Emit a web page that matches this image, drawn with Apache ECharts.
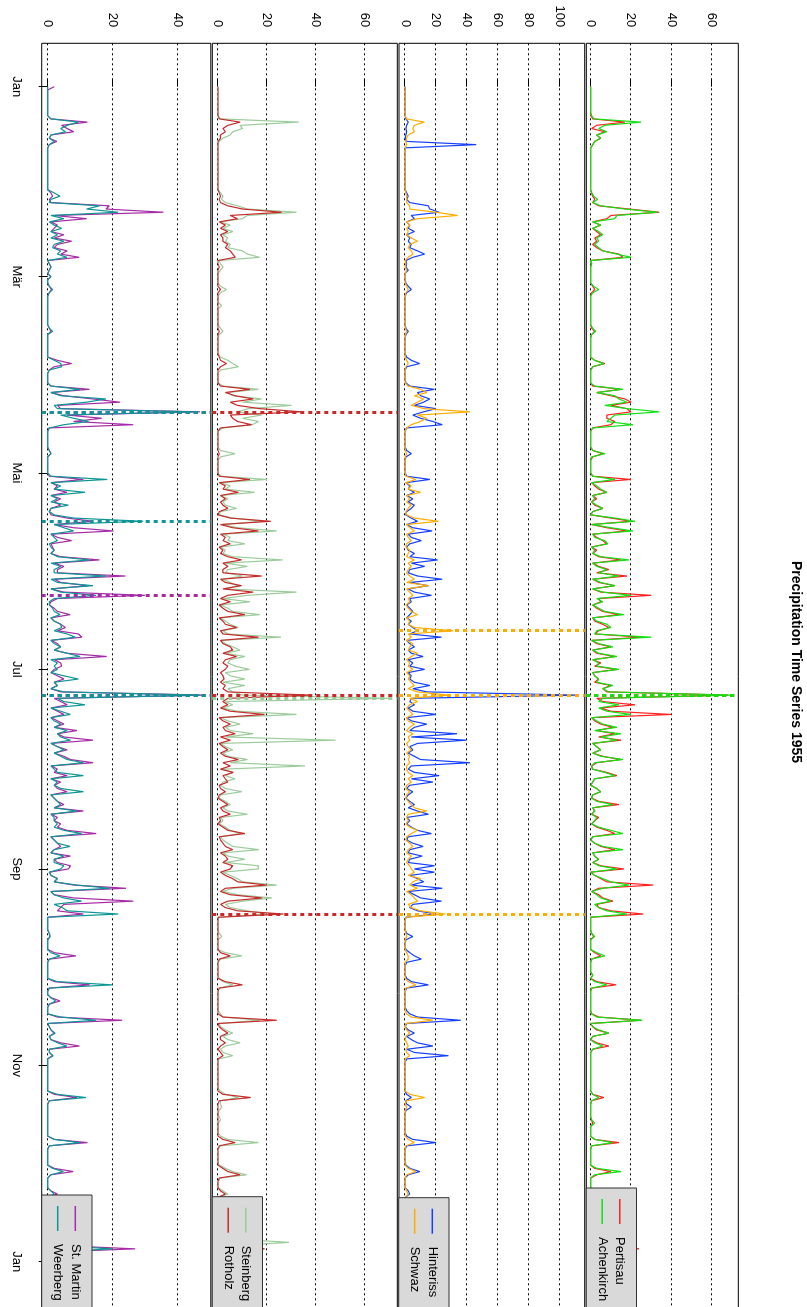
<!DOCTYPE html>
<html>
<head>
<meta charset="utf-8">
<script src="https://cdn.jsdelivr.net/npm/echarts@6/dist/echarts.min.js"></script>
<style>
  html, body { margin: 0; padding: 0; background: #fff; overflow: hidden; width: 807px; height: 1307px; }
  /* the chart is laid out landscape and turned a quarter clockwise, like the reference */
  #chart { position: absolute; left: 0; top: 0; width: 1320px; height: 807px;
           transform-origin: 0 0; transform: translate(807px, 0) rotate(90deg); }
</style>
</head>
<body>
<div id="chart"></div>
<script>
// day index 0 = 1 Jan 1955
const monthTickDays = [0, 59, 120, 181, 243, 304, 365];
const monthTickLabels = ['Jan', 'Mär', 'Mai', 'Jul', 'Sep', 'Nov', 'Jan'];

const ticksPanel1 = [0, 20, 40, 60];
const ticksPanel2 = [0, 20, 40, 60, 80, 100];
const ticksPanel3 = [0, 20, 40, 60];
const ticksPanel4 = [0, 20, 40];

// daily precipitation (mm), one line per month
const pertisau = [
  0,0,0,0,0,0,0,0,0,0, 1,17,3,0.5,7,3,5,2,1,0, 0,0,0,0,0,0,0,0,0,0, 0,
  0,0,0.5,1,2,1,4,19,34,10, 8,1,5,1,3,5,2,3,1,3, 6,14,16,0,0.5,0,0,0,
  0,0,0,1,2,0.5,0,0,0,0, 0,0,0,0,0,0,0.5,2,0.5,0, 0,0,0,0,0,0,2,7,1,0, 0,
  0,0,0,1,15,3,10,17,20,10, 18,20,8,8,12,10,1,0,0,0, 0,0,0,1,6,1,0,0,0,0,
  0,1,20,0.5,2,4,8,1,3,0.5, 2,6,1,0,10,20,0.5,8,18,1, 3,6,8,0.5,3,1,4,15,1,4, 9,
  3,18,1,4,12,1,5,30,4,5, 1,3,6,14,1,2,6,9,4,2, 25,0.5,3,10,1,3,12,1,5,2,
  13,1,2,4,2,10,6,8,68,3, 6,22,5,10,40,0.5,2,5,11,3, 12,4,15,1,3,5,1,6,15,3, 0.5,
  1,8,13,2,1,0,3,5,1,0.5, 4,14,1,2,0.5,4,2,0.5,3,8, 12,1,0,2,5,12,1,2,4,1, 5,
  16.5,0,2,5,8,31,4,0.5,4,6, 11,3,4,10,26,0,0,0,0,0, 0.5,1.5,0,0,0,0,2,5,0.5,0,
  0,0,0,1,0,3,12.5,0.5,0,0, 0,0,0,0,0,0.5,4,25,0,1, 3,9,1,0,3,9,1,0,0,0, 0,
  0,0,0,0,0,0,0,0,0,1, 6.5,0.5,0,0,0,0,0,0.5,1,0, 0,0,0,2,14,0.5,0,0,0,0,
  0,0,2,10,3,0,0,0,0,2, 4,0,0,1,3,0,0,0,5,1, 0,0,0,2,6,3,8,24,2,0, 0
];
const achenkirch = [
  0,0,0,0,0,0,0,0,0,0.5, 1.5,25,7,4,8,3,5,2,1,0, 0,0,0,0,0,0,0,0,0,0, 0,
  0,0,0.5,1.5,3.5,1,5,17,33,13, 12,1,5,1,4,6,3,4,2,4, 6,13,20,0,0.5,0,0,0,
  0,0,0,1.5,4,1,0,0,0,0, 0,0,0,0,0,0,1,2.5,0.5,0, 0,0,0,0,0,0,2,6.5,1,0, 0,
  0,0,0,2,16,3,12,14,18,7, 18,34,12,10,8,21,1,0,0,0, 0,0,0,1,7,0.5,0,0,0,0,
  0,1,12,0.5,3,5,8,1,2,0.5, 3,6,1,0,12,22,0.5,10,21,1, 2,7,8.5,0.5,2,1,5,19,1,3, 8,
  4,14,1,5,12,1,6,20,3,6, 1,4,7,16.5,1,3,8,10,3,2, 30,0.5,4,11,1,4,13,1,4,3,
  14,1,2,4,3,11,6,9,70.5,6, 4,14,4,8,20,0.5,3,6,13,2, 15,5,13,1,3,5,1,5,16,2, 0.5,
  1,7,12,2,1,0,3,5,1,0.5, 3,11,1,2,0.5,3,2,0.5,4,10, 16,1,0,2,6,16,1,2,4,1, 4,
  13,0,2,6,10,19,6,0.5,3,5, 10,2,4,8,18,0,0,0,0,0, 0.5,2,0,0,0,0,3,7,0.5,0,
  0,0,0,1,0,2,8,0.5,0,0, 0,0,0,0,0,0.5,3,25.5,0,1, 4,9,1,0,2,6,1,0,0,0, 0,
  0,0,0,0,0,0,0,0,0,1, 4,0.5,0,0,0,0,0,0.5,2,0, 0,0,0,2,11,0.5,0,0,0,0,
  0,0,3,15,2,0,0,0,0,2, 3,0,0,1,2,0,0,0,4,1, 0,0,0,2,5,2,7,22,1,0, 0
];
const hinteriss = [
  0,0,0,0,0,0,0,0,0,0, 0.5,2,1,0.5,1,0.5,0,1,46,0, 0,0,0,0,0,0,0,0,0,0, 0,
  0,0,1,2,1,3,15,16,22,4, 6,1,3,2,6,1,3,2,4,3, 8,12.6,5,0.5,1,0.5,2,0,
  0,0,0.5,2,4,1,0,0,0,0, 0,0,0,0,0,0,0.5,2,0.5,0, 0,0,0,0,0,1,4,9.4,1,0, 0,
  0,0,0.5,3,19,8,10,16,12,6, 20,12,5,10,18,24,1,0,0,0, 0,0,0,1,4,0.5,0,0,0,0,
  0,1,16,0.5,3,2,6,1,5,2, 6,4,1,0.5,4,8,1,5,17.5,2, 4,10.5,3,1,2,6,3,21,4,12.7, 3,
  2,8,24,3,15,2,6,17,3,4, 1,3,5,3,1,4,2,5,8,3, 23.5,1,3,6,2,4,11.6,2,5,3,
  12.7,2,4,3,6,16,5,14,112,4, 3,6,2,5,20,1,4,14,6,3, 33.6,4,39.6,8,3,5,2,6,10,42, 4,
  2,6,22,4,18,3,1,5,2,0.5, 3,6,2,8,15,1,3,1,4,8, 17,2,1,5,11.6,3,2,11,3,2, 19,
  6,19,3,8,12,4,24,2,6,10, 23.5,5,3,8,20,0.5,0,0,0,0, 1,5,0.5,0,0,0.5,3,6,10.5,1,
  0,0,0,0,1,4,15,1,0,0, 0,0,0,0,1,3,8,36,1,0, 2,6,1,4,8,18,1,6,28,1, 0,
  0,0,0,0,0,0,0,0,0,1, 4,0.5,1,4,0.5,0,0,0,0,0, 0,0,1,5,20,1,0,0,0,0,
  0,0.5,3,9.5,2,0,0,0,0,2, 3,0,0,1,4,0,0,0,5,1, 0,0,0,2,8,3,6,14,2,0, 0
];
const schwaz = [
  0,0,0,0,0,0,0,0,0,0, 1,12.5,6,5,6,2,1,0.5,1,0, 0,0,0,0,0,0,0,0,0,0, 0,
  0,0,0.5,1,1,1,3,3,20,34, 8,1,3,1,2,1,4,8,3,2, 4,5,2,0,0.5,0,1,0,
  0,0,0,1,2,0.5,0,0,0,0, 0,0,0,0,0,0,0,1,0,0, 0,0,0,0,0,0,1,2,0.5,0, 0,
  0,0,0,2,10,14,6,12,8,4, 12,42,8,14,10,4,1,0,0,0, 0,0,0,0,1,0,0,0,0,0,
  0,0.5,7,0.5,4,2,10,1,3,1, 4,2,0.5,1,6,21.5,1,3,6,1, 2,4,1,0.5,3,2,1,6,2,4, 2,
  1,3,6,1,15,1,3,5,2,3, 0.5,2,4,8,1,3,2,6,31,2, 4,1,5,3,2,8,4,1,3,2,
  5,1,3,2,4,6,2,8,28,3, 8,3,1,3,5,1,2,6,3,1, 5,2,3,1,2,4,1,3,2,3, 1,
  1,2,5,2,4,1,0.5,3,1,0.5, 2,4,6,14,2,1,2,0.5,3,8, 4,1,0.5,3,5,2,1,4,2,1, 3,
  4,6,2,10,5,3,8,1,4,6, 8,2,4,10,26,0.5,0,0,0,0, 0.5,1,0,0,0,0,1,2,2,0,
  0,0,0,0,0,2,7,0.5,0,0, 0,0,0,0,0,1,4,18,0.5,0, 1,3,0.5,0,1,2,0.5,1,3,0, 0,
  0,0,0,0,0,0,0,0,0,3, 12.7,1,0,1,0,0,0,0,0,0, 0,0,0,2,6,0.5,0,0,0,0,
  0,0,2,7,1,0,0,0,0,1, 2,0,0,0,2,0,0,0,3,0.5, 0,0,0,1,4,2,3,8,1,0, 0
];
const steinberg = [
  0,0,0,0,0,0,0,0,0,0, 1,33,9,10,6,5,2,0.5,0,0, 0,0,0,0,0,0,0,0,0,0, 0,
  0,0,1,2,1.5,3,8,12,32,12, 10,1,5,2,6,2,4,3,5,4, 10,12,17,0.5,1,2,1,0,
  0,0,0,1,3.5,1,0,0,0,1.5, 0,0,0,0,0,0,1,2,0.5,0, 0,0,0,0,0,1,4,6,8.3,1, 0,
  0,0,0,2,16.5,4,6,17.8,10,30, 12.4,8,17.8,10,16.5,14,2,0,0,0, 0,0,0,1,7,1,0,0,0,0,
  0,1,20,1,5,3,15,1,4,2, 3,7.6,1,0.5,6,18,2,8,24,2, 5,4,11,1,3,2,6,26.4,3,12, 4,
  3,10,2,5,8,3,32,12,2,13, 1,4,6,17,1,3,5,8.3,2,4, 25.7,1,3,6,9,3,11,5,4,7,
  12.8,3,5,11,2,11,4,6,10,70.5, 3,6,2,8,32,1,4,9,3,5, 14.4,3,48,1,3,6,2,4,12,5, 35.5,
  2,6,3,7,2,1,3,9.7,1,0.5, 3,5,2,4,12,1,2,0.5,3,5, 9,1,2,4,6,16.7,2,4,11,3, 16.5,
  16.5,2,5,8,10,24,6,2,8,22, 10,3,5,12,20,0.5,0,0,0,0, 0.5,1.5,0,0,0,0,3,9.7,1,0,
  0,0,0,0,0.5,2,6,0.5,0,0, 0,0,0,0,0,1,2,17,0.5,1, 3,6,2,4,9,3,1,2,6,0.5, 0,
  0,0,0,0,0,0,0,0,1,3, 8.3,1,1,1.5,0.5,0,0.5,1,0,0, 0,0,1,4,16.5,1,0,0,0,0,
  0,0.5,3,6,11.7,1,0,0,0,2, 4,0,0,1,3,0,0,0,6,1, 0,0,0,3,8,29,6,19,2,0, 0
];
const rotholz = [
  0,0,0,0,0,0,0,0,0,0, 0.5,9,4,2,3,1,1,0,0,0, 0,0,0,0,0,0,0,0,0,0, 0,
  0,0,0.5,1,0.5,1,4,10,26,5, 8,0.5,3,1,4,1,2,2,4,3, 5,6,7,0,0,0.5,0,0,
  0,0,0,0,1,0,0,0,0,0, 0,0,0,0,0,0,0,0.5,0,0, 0,0,0,0,0,0.5,1,3.5,1,0, 0,
  0,0,0,1,13,3,7,14.4,5,8, 17,34,5,6,8,13.7,1,0,0,0, 0,0,0,0,0.5,0,0,0,0,0,
  0,0.5,13,0.5,3,2,8.3,1,3,1, 2,4,0.5,0,5,21.5,1,6,16.5,1, 3,2,5,0.5,2,1,4,9.6,2,4, 2,
  2,17.8,1,3,9.6,2,14.4,4,1,5, 0.5,2,4,11,0.5,2,3,7.6,1,2, 16.5,1,2,5,6,2,7.6,3,2,4,
  3,1,2,2.5,1,3,2,4,38,4, 2,4,1,5,19,0.5,2,5,2,3, 7,1,5,0.5,2,4,1,3,8.3,2, 5,
  1,6.3,2,3,4,0.5,1,3,0.5,0, 2,4,1,2,5,0.5,1,0,2,4, 11,0.5,1,2,3,6,1,3,4,2, 6,
  5,1,3,6,8,19.9,3,1,5,18, 4,1,3,8,26.7,0,0,0,0,0, 0,0,0,0,0,0,1,5,0.5,0,
  0,0,0,0,0,3,10,0.5,0,0, 0,0,0,0,0,0,2,24,0,0.5, 2,4,1,1,3,1,0,1,2,0, 0,
  0,0,0,0,0,0,0,0,0,2, 13.3,0.5,0,0,0,0,0,0,0,0, 0,0,0,2,7,0.5,0,0,0,0,
  0,0,2,4,9,0.5,0,0,0,1, 3,0,0,0,2,0,0,0,4,0.5, 0,0,0,2,6,10,4,19,1,0, 0
];
const stMartin = [
  2,0,0,0,0,0,0,0,0,0, 1,12.3,4.3,6,8,1,0.5,2.8,0.5,0, 0,0,0,0,0,0,0,0,0,0, 0,
  0,0,1,1.5,0.5,1,19,18,35.7,2, 12,1,3,2,1,5,2,7.4,3,2, 6,4,9.7,0,0.5,1,0.5,0,
  1,0,0,0.5,1.2,0.5,0,0,0,0, 0,0,0,0,0,0,0.5,1,0,0, 0,0,0,0,0,0,3,7.4,2,0.5, 0,
  0,0,0,1,12.9,1,5,14,22.3,3, 4,47,6,16.7,8,26.4,0.5,0,0,0, 0,0,0,0.5,1,0,0,0,0,0,
  0,0.5,11,1,3,2,5.9,1,4,2, 4,1,0.5,1,6,14,2,8,20.3,1, 3,7.4,1,1.5,2,1,4,16,2,5, 3,
  3,24,2,4,12.5,1,5,30,3,1, 0.5,2,3,6.9,1,2,4,5.5,3,9.5, 10.5,1,3,4,2,6,18.2,2,4,4.3,
  2,1,3,5,2,3,1,4,48.4,2, 4,6,1,3,5,1,3,5,2,9, 3,5,14,1,3,6,2,5,7,14, 1,
  3,2,6,1,4,2,3,6,1,2, 3,5,2,11,1,3,2,4,3,6, 15,1,2,3,4,2,1,7,2,3, 7,
  6.4,0.5,1,3,2,8,24.2,1,2,8, 26.4,5,4,3,11,0,0,0,0,0, 0.5,0.7,0,0,0,0,2,8.7,0.5,0,
  0,0,0,0,0,2,13,0.5,0,0, 1,3.8,0.5,0,0,0,3,23,0,0.5, 1,2,0.5,1,4,9.8,0.5,0.5,1.5,0, 0,
  0,0,0,0,0,0,0,0,0,2, 9,0.5,0,0,0,0,0,0,0,0, 0,0,0,2,12.3,0.5,0,0,0,0,
  0,0,2,7.9,1,0,0,0,0,1, 3,0,0,0,2,0,0,0,4,0.5, 0,0,0,2,6,8,4,27,1,0, 0
];
const weerberg = [
  0,0,0,0,0,0,0,0,0,0, 1,9.5,6,4,5.5,1,0.5,2,0.5,0, 0,0,0,0,0,0,0,0,0,0, 0,
  0,0,2,3.8,1,0.5,16,12,21.8,1, 5,0.5,2,4.3,1,3,1,5,2,1.5, 4,3,5.9,0,0.5,1,0.5,0,
  1,0,0,0.5,1.5,0.5,0,0,0,0, 0,0,0,0,0,0,0.5,1.5,0,0, 0,0,0,0,0,0,2,4,4.3,0.5, 0,
  0,0,0,1,10,1,4,18,12,2, 3,45,4,8,12.6,5,0.5,0,0,0, 0,0,0,0.5,1,0,0,0,0,0,
  0,1,18.4,1,4,2,11.5,1,3,1, 6.4,1,0.5,2,8,29.5,2,5,8,1, 2,3,0.5,1,2,1,3,13,1,4, 2,
  2,18,1,3,14,1,4,15,2,0.5, 0.5,1.5,2,3.8,1,2,4,4.3,2,6, 8.5,1,2,4,2,6,10,1,3,2,
  3,1,5,9.5,2,3,1,5,47,3, 5,11.5,1,4,7,1,2,4,2,6, 3,4,7,1,3,5,2,4,6,11, 1,
  2,3,11,1,3,2,4,11,1,2, 3,4,2,9,1,2,2,3,2,5, 10.5,1,2,3,6.9,2,1,5,2,2, 5,
  4,0.5,1,3,2,9,19.2,1,2,5, 10.5,2,4.5,6,21.8,0,0,0,0,0, 0.5,0.7,0,0,0,0,1,3.8,0.5,0,
  0,0,0,0,0,3,20,0.5,0,0, 1,2.5,0.5,0,0,0,4,15,0,0.5, 1,2.3,0.5,1,3,5.9,0.5,0.5,1.7,0, 0,
  0,0,0,0,0,0,0,0,0,3, 11.8,0.5,0,0,0,0,0,0,0,0, 0,0,0,2,10,0.5,0,0,0,0,
  0,0,1.5,4.8,1,0,0,0,0,1, 2,0,0,0,1.5,0,0,0,3,0.5, 0,0,0,1,5,6,3,20,1,0, 0
];

// days marked with the thick dotted lines
const pertisauMarks = [189];
const achenkirchMarks = [189];
const hinterissMarks = [189];
const schwazMarks = [169, 189, 257];
const steinbergMarks = [190];
const rotholzMarks = [101, 189, 257];
const stMartinMarks = [101, 158, 189];
const weerbergMarks = [101, 135, 189];

[pertisau, achenkirch, hinteriss, schwaz, steinberg, rotholz, stMartin, weerberg].forEach((a, i) => {
  if (a.length !== 365) throw new Error('series ' + i + ' has ' + a.length + ' values');
});

const font = '"Liberation Sans", Arial, Helvetica, sans-serif';

const panels = [
  { names: ['Pertisau', 'Achenkirch'], values: [pertisau, achenkirch], marks: [pertisauMarks, achenkirchMarks],
    colors: ['#ff2020', '#11e011'], ticks: ticksPanel1, top: 68.7, height: 152, min: -2.16, max: 73.2,
    legendLeft: 1188, legendTop: 170.5 },
  { names: ['Hinteriss', 'Schwaz'], values: [hinteriss, schwaz], marks: [hinterissMarks, schwazMarks],
    colors: ['#1540ff', '#ffad00'], ticks: ticksPanel2, top: 222.3, height: 185.7, min: -3.95, max: 116.2,
    legendLeft: 1197.7, legendTop: 358 },
  { names: ['Steinberg', 'Rotholz'], values: [steinberg, rotholz], marks: [steinbergMarks, rotholzMarks],
    colors: ['#9ccc9c', '#c62b2b'], ticks: ticksPanel3, top: 409.7, height: 185, min: -2.33, max: 73.2,
    legendLeft: 1196.7, legendTop: 544.5 },
  { names: ['St. Martin', 'Weerberg'], values: [stMartin, weerberg], marks: [stMartinMarks, weerbergMarks],
    colors: ['#a62ba6', '#0e9595'], ticks: ticksPanel4, top: 596.2, height: 169.1, min: -1.85, max: 50.35,
    legendLeft: 1195, legendTop: 715 }
];

const chart = echarts.init(document.getElementById('chart'));

const option = {
  animation: false,
  backgroundColor: '#fff',
  textStyle: { fontFamily: font },
  title: {
    text: 'Precipitation Time Series 1955',
    left: 561, top: 4, padding: 0,
    textStyle: { fontSize: 14, fontWeight: 'bold', color: '#000', fontFamily: font }
  },
  grid: panels.map(p => ({
    left: 43.3, top: p.top, width: 1266.7, height: p.height,
    show: true, borderColor: '#000', borderWidth: 1, backgroundColor: 'transparent'
  })),
  xAxis: panels.map((p, i) => ({
    type: 'value', gridIndex: i, min: -13.48, max: 380,
    axisLine: { show: false },
    axisTick: { show: i === 3, length: 9, customValues: monthTickDays, lineStyle: { color: '#000', width: 1 } },
    axisLabel: {
      show: i === 3, customValues: monthTickDays, margin: 19, fontSize: 13, color: '#000', fontFamily: font,
      formatter: v => monthTickLabels[monthTickDays.indexOf(v)]
    },
    splitLine: { show: false }
  })),
  yAxis: panels.map((p, i) => ({
    type: 'value', gridIndex: i, min: p.min, max: p.max,
    axisLine: { show: false },
    axisTick: { show: true, length: 8, customValues: p.ticks, lineStyle: { color: '#000', width: 1 } },
    axisLabel: { customValues: p.ticks, margin: 16, fontSize: 13, color: '#000', fontFamily: font },
    splitLine: { show: true, lineStyle: { color: '#000', width: 1, type: [2, 3] } }
  })),
  legend: panels.map(p => ({
    data: p.names, orient: 'vertical', left: p.legendLeft, top: p.legendTop,
    backgroundColor: '#d9d9d9', borderColor: '#333', borderWidth: 1, borderRadius: 0,
    padding: [9.7, 40, 9, 11], itemWidth: 25, itemHeight: 1.5, itemGap: 3.6, icon: 'rect',
    selectedMode: false,
    textStyle: { fontSize: 13, color: '#000', fontFamily: font, lineHeight: 14, padding: [0, 0, 0, 8] }
  })),
  series: panels.flatMap((p, i) => p.names.map((name, k) => ({
    name, type: 'line', xAxisIndex: i, yAxisIndex: i,
    data: p.values[k].map((v, d) => [d, v]),
    showSymbol: false, symbol: 'none', color: p.colors[k],
    lineStyle: { color: p.colors[k], width: 1.2 },
    itemStyle: { color: p.colors[k] },
    z: 2 + k,
    markLine: {
      silent: true, animation: false, symbol: ['none', 'none'], label: { show: false },
      lineStyle: { color: p.colors[k], width: 3, type: [4, 4] },
      emphasis: { disabled: true },
      data: p.marks[k].map(d => ({ xAxis: d }))
    }
  })))
};

chart.setOption(option);
</script>
</body>
</html>
